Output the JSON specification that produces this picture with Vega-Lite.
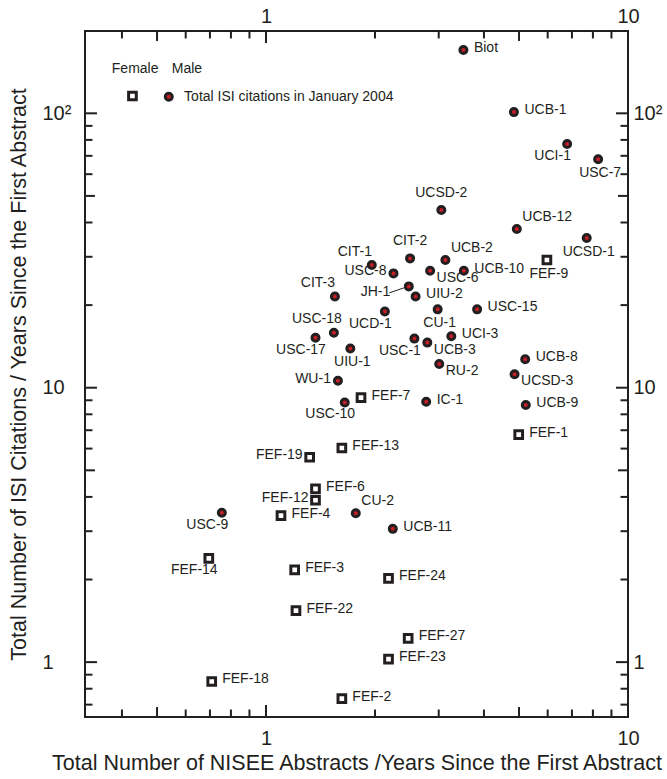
{
  "$schema": "https://vega.github.io/schema/vega-lite/v6.json",
  "width": 543,
  "height": 686,
  "autosize": {"type": "none"},
  "padding": {"left": 85, "top": 31, "right": 39, "bottom": 62},
  "background": "white",
  "datasets": {
    "scientists": [
      {"name": "Biot", "sex": "Male", "abstracts": 3.51, "citations": 170, "place": "r"},
      {"name": "UCB-1", "sex": "Male", "abstracts": 4.84, "citations": 101, "place": "r"},
      {"name": "UCI-1", "sex": "Male", "abstracts": 6.79, "citations": 77.3, "place": "bl"},
      {"name": "USC-7", "sex": "Male", "abstracts": 8.27, "citations": 68.0, "place": "b"},
      {"name": "UCSD-2", "sex": "Male", "abstracts": 3.05, "citations": 44.4, "place": "a"},
      {"name": "UCB-12", "sex": "Male", "abstracts": 4.93, "citations": 37.9, "place": "ar"},
      {"name": "UCSD-1", "sex": "Male", "abstracts": 7.69, "citations": 35.1, "place": "b"},
      {"name": "CIT-1", "sex": "Male", "abstracts": 1.96, "citations": 28.0, "place": "al"},
      {"name": "CIT-2", "sex": "Male", "abstracts": 2.50, "citations": 29.6, "place": "a"},
      {"name": "UCB-2", "sex": "Male", "abstracts": 3.13, "citations": 29.2, "place": "ar"},
      {"name": "USC-8", "sex": "Male", "abstracts": 2.25, "citations": 26.1, "place": "l"},
      {"name": "USC-6", "sex": "Male", "abstracts": 2.84, "citations": 26.7, "place": "br"},
      {"name": "UCB-10", "sex": "Male", "abstracts": 3.52, "citations": 26.7, "place": "r"},
      {"name": "JH-1", "sex": "Male", "abstracts": 2.48, "citations": 23.4, "place": "lead"},
      {"name": "UIU-2", "sex": "Male", "abstracts": 2.59, "citations": 21.5, "place": "r"},
      {"name": "CIT-3", "sex": "Male", "abstracts": 1.55, "citations": 21.5, "place": "al"},
      {"name": "UCD-1", "sex": "Male", "abstracts": 2.13, "citations": 18.95, "place": "bl"},
      {"name": "CU-1", "sex": "Male", "abstracts": 2.98, "citations": 19.3, "place": "b"},
      {"name": "USC-15", "sex": "Male", "abstracts": 3.83, "citations": 19.3, "place": "r"},
      {"name": "USC-18", "sex": "Male", "abstracts": 1.54, "citations": 15.85, "place": "al"},
      {"name": "USC-17", "sex": "Male", "abstracts": 1.37, "citations": 15.2, "place": "bl"},
      {"name": "UIU-1", "sex": "Male", "abstracts": 1.71, "citations": 13.9, "place": "b"},
      {"name": "USC-1", "sex": "Male", "abstracts": 2.57, "citations": 15.1, "place": "bl"},
      {"name": "UCB-3", "sex": "Male", "abstracts": 2.79, "citations": 14.6, "place": "br"},
      {"name": "UCI-3", "sex": "Male", "abstracts": 3.25, "citations": 15.4, "place": "r"},
      {"name": "RU-2", "sex": "Male", "abstracts": 3.01, "citations": 12.2, "place": "br"},
      {"name": "UCB-8", "sex": "Male", "abstracts": 5.20, "citations": 12.7, "place": "r"},
      {"name": "UCSD-3", "sex": "Male", "abstracts": 4.86, "citations": 11.2, "place": "br"},
      {"name": "UCB-9", "sex": "Male", "abstracts": 5.22, "citations": 8.65, "place": "r"},
      {"name": "IC-1", "sex": "Male", "abstracts": 2.77, "citations": 8.89, "place": "r"},
      {"name": "WU-1", "sex": "Male", "abstracts": 1.58, "citations": 10.6, "place": "l"},
      {"name": "USC-10", "sex": "Male", "abstracts": 1.65, "citations": 8.84, "place": "bl"},
      {"name": "CU-2", "sex": "Male", "abstracts": 1.77, "citations": 3.49, "place": "ar"},
      {"name": "UCB-11", "sex": "Male", "abstracts": 2.24, "citations": 3.06, "place": "r"},
      {"name": "USC-9", "sex": "Male", "abstracts": 0.755, "citations": 3.50, "place": "bl"},
      {"name": "FEF-9", "sex": "Female", "abstracts": 5.97, "citations": 29.2, "place": "b"},
      {"name": "FEF-1", "sex": "Female", "abstracts": 4.99, "citations": 6.75, "place": "r"},
      {"name": "FEF-7", "sex": "Female", "abstracts": 1.83, "citations": 9.20, "place": "r"},
      {"name": "FEF-13", "sex": "Female", "abstracts": 1.62, "citations": 6.03, "place": "r"},
      {"name": "FEF-19", "sex": "Female", "abstracts": 1.32, "citations": 5.58, "place": "l"},
      {"name": "FEF-6", "sex": "Female", "abstracts": 1.37, "citations": 4.28, "place": "r"},
      {"name": "FEF-12", "sex": "Female", "abstracts": 1.37, "citations": 3.89, "place": "l"},
      {"name": "FEF-4", "sex": "Female", "abstracts": 1.10, "citations": 3.42, "place": "r"},
      {"name": "FEF-14", "sex": "Female", "abstracts": 0.695, "citations": 2.39, "place": "bl"},
      {"name": "FEF-3", "sex": "Female", "abstracts": 1.20, "citations": 2.17, "place": "r"},
      {"name": "FEF-22", "sex": "Female", "abstracts": 1.21, "citations": 1.54, "place": "r"},
      {"name": "FEF-18", "sex": "Female", "abstracts": 0.708, "citations": 0.850, "place": "r"},
      {"name": "FEF-2", "sex": "Female", "abstracts": 1.62, "citations": 0.736, "place": "r"},
      {"name": "FEF-24", "sex": "Female", "abstracts": 2.18, "citations": 2.02, "place": "r"},
      {"name": "FEF-27", "sex": "Female", "abstracts": 2.47, "citations": 1.22, "place": "r"},
      {"name": "FEF-23", "sex": "Female", "abstracts": 2.18, "citations": 1.025, "place": "r"}
    ],
    "key": [
      {"item": "Female", "kind": "header", "x": 0.375, "y": 145.3},
      {"item": "Male", "kind": "header", "x": 0.549, "y": 145.3},
      {"item": "Total ISI citations in January 2004", "kind": "caption", "x": 0.594, "y": 114.9},
      {"item": "Female", "kind": "symbol", "x": 0.4276, "y": 115.6},
      {"item": "Male", "kind": "symbol", "x": 0.5387, "y": 114.9}
    ],
    "scaleMarks": [
      {"dim": "x", "level": "major", "v": 1}, {"dim": "x", "level": "major", "v": 10},
      {"dim": "x", "level": "half", "v": 0.5}, {"dim": "x", "level": "half", "v": 5},
      {"dim": "x", "level": "minor", "v": 0.4}, {"dim": "x", "level": "minor", "v": 0.6},
      {"dim": "x", "level": "minor", "v": 0.7}, {"dim": "x", "level": "minor", "v": 0.8},
      {"dim": "x", "level": "minor", "v": 0.9}, {"dim": "x", "level": "minor", "v": 2},
      {"dim": "x", "level": "minor", "v": 3}, {"dim": "x", "level": "minor", "v": 4},
      {"dim": "x", "level": "minor", "v": 6}, {"dim": "x", "level": "minor", "v": 7},
      {"dim": "x", "level": "minor", "v": 8}, {"dim": "x", "level": "minor", "v": 9},
      {"dim": "y", "level": "major", "v": 1}, {"dim": "y", "level": "major", "v": 10},
      {"dim": "y", "level": "major", "v": 100},
      {"dim": "y", "level": "half", "v": 5}, {"dim": "y", "level": "half", "v": 50},
      {"dim": "y", "level": "minor", "v": 0.7}, {"dim": "y", "level": "minor", "v": 0.8},
      {"dim": "y", "level": "minor", "v": 0.9}, {"dim": "y", "level": "minor", "v": 2},
      {"dim": "y", "level": "minor", "v": 3}, {"dim": "y", "level": "minor", "v": 4},
      {"dim": "y", "level": "minor", "v": 6}, {"dim": "y", "level": "minor", "v": 7},
      {"dim": "y", "level": "minor", "v": 8}, {"dim": "y", "level": "minor", "v": 9},
      {"dim": "y", "level": "minor", "v": 20}, {"dim": "y", "level": "minor", "v": 30},
      {"dim": "y", "level": "minor", "v": 40}, {"dim": "y", "level": "minor", "v": 60},
      {"dim": "y", "level": "minor", "v": 70}, {"dim": "y", "level": "minor", "v": 80},
      {"dim": "y", "level": "minor", "v": 90}
    ]
  },
  "layer": [
    {
      "data": {"name": "scientists"},
      "transform": [{"filter": "datum.name == 'JH-1'"}],
      "mark": {"type": "rule", "stroke": "#231f20", "strokeWidth": 1, "xOffset": -5, "yOffset": 1.5, "x2Offset": -19.5, "y2Offset": 6.5},
      "encoding": {
        "x": {"field": "abstracts", "type": "quantitative", "scale": {"type": "log", "domain": [0.3162, 10], "nice": false}, "axis": null},
        "y": {"field": "citations", "type": "quantitative", "scale": {"type": "log", "domain": [0.631, 199.5], "nice": false}, "axis": null},
        "x2": {"field": "abstracts"},
        "y2": {"field": "citations"}
      }
    },
    {
      "data": {"name": "scientists"},
      "transform": [{"filter": "datum.place == 'r'"}],
      "mark": {"type": "text", "align": "left", "baseline": "middle", "dx": 10.5, "dy": -2, "font": "Liberation Sans", "fontSize": 14, "fill": "#231f20"},
      "encoding": {
        "x": {"field": "abstracts", "type": "quantitative", "scale": {"type": "log", "domain": [0.3162, 10], "nice": false}, "axis": null},
        "y": {"field": "citations", "type": "quantitative", "scale": {"type": "log", "domain": [0.631, 199.5], "nice": false}, "axis": null},
        "text": {"field": "name"}
      }
    },
    {
      "data": {"name": "scientists"},
      "transform": [{"filter": "datum.place == 'b'"}],
      "mark": {"type": "text", "align": "center", "baseline": "middle", "dx": 2, "dy": 13.5, "font": "Liberation Sans", "fontSize": 14, "fill": "#231f20"},
      "encoding": {
        "x": {"field": "abstracts", "type": "quantitative", "scale": {"type": "log", "domain": [0.3162, 10], "nice": false}, "axis": null},
        "y": {"field": "citations", "type": "quantitative", "scale": {"type": "log", "domain": [0.631, 199.5], "nice": false}, "axis": null},
        "text": {"field": "name"}
      }
    },
    {
      "data": {"name": "scientists"},
      "transform": [{"filter": "datum.place == 'l'"}],
      "mark": {"type": "text", "align": "right", "baseline": "middle", "dx": -7, "dy": -2, "font": "Liberation Sans", "fontSize": 14, "fill": "#231f20"},
      "encoding": {
        "x": {"field": "abstracts", "type": "quantitative", "scale": {"type": "log", "domain": [0.3162, 10], "nice": false}, "axis": null},
        "y": {"field": "citations", "type": "quantitative", "scale": {"type": "log", "domain": [0.631, 199.5], "nice": false}, "axis": null},
        "text": {"field": "name"}
      }
    },
    {
      "data": {"name": "scientists"},
      "transform": [{"filter": "datum.place == 'bl'"}],
      "mark": {"type": "text", "align": "center", "baseline": "middle", "dx": -14.5, "dy": 12, "font": "Liberation Sans", "fontSize": 14, "fill": "#231f20"},
      "encoding": {
        "x": {"field": "abstracts", "type": "quantitative", "scale": {"type": "log", "domain": [0.3162, 10], "nice": false}, "axis": null},
        "y": {"field": "citations", "type": "quantitative", "scale": {"type": "log", "domain": [0.631, 199.5], "nice": false}, "axis": null},
        "text": {"field": "name"}
      }
    },
    {
      "data": {"name": "scientists"},
      "transform": [{"filter": "datum.place == 'br'"}],
      "mark": {"type": "text", "align": "left", "baseline": "middle", "dx": 6.5, "dy": 7, "font": "Liberation Sans", "fontSize": 14, "fill": "#231f20"},
      "encoding": {
        "x": {"field": "abstracts", "type": "quantitative", "scale": {"type": "log", "domain": [0.3162, 10], "nice": false}, "axis": null},
        "y": {"field": "citations", "type": "quantitative", "scale": {"type": "log", "domain": [0.631, 199.5], "nice": false}, "axis": null},
        "text": {"field": "name"}
      }
    },
    {
      "data": {"name": "scientists"},
      "transform": [{"filter": "datum.place == 'ar'"}],
      "mark": {"type": "text", "align": "left", "baseline": "middle", "dx": 5.5, "dy": -12, "font": "Liberation Sans", "fontSize": 14, "fill": "#231f20"},
      "encoding": {
        "x": {"field": "abstracts", "type": "quantitative", "scale": {"type": "log", "domain": [0.3162, 10], "nice": false}, "axis": null},
        "y": {"field": "citations", "type": "quantitative", "scale": {"type": "log", "domain": [0.631, 199.5], "nice": false}, "axis": null},
        "text": {"field": "name"}
      }
    },
    {
      "data": {"name": "scientists"},
      "transform": [{"filter": "datum.place == 'lead'"}],
      "mark": {"type": "text", "align": "right", "baseline": "middle", "dx": -18.5, "dy": 6, "font": "Liberation Sans", "fontSize": 14, "fill": "#231f20"},
      "encoding": {
        "x": {"field": "abstracts", "type": "quantitative", "scale": {"type": "log", "domain": [0.3162, 10], "nice": false}, "axis": null},
        "y": {"field": "citations", "type": "quantitative", "scale": {"type": "log", "domain": [0.631, 199.5], "nice": false}, "axis": null},
        "text": {"field": "name"}
      }
    },
    {
      "data": {"name": "scientists"},
      "transform": [{"filter": "datum.place == 'a'"}],
      "mark": {"type": "text", "align": "center", "baseline": "middle", "dx": 0, "dy": -17, "font": "Liberation Sans", "fontSize": 14, "fill": "#231f20"},
      "encoding": {
        "x": {"field": "abstracts", "type": "quantitative", "scale": {"type": "log", "domain": [0.3162, 10], "nice": false}, "axis": null},
        "y": {"field": "citations", "type": "quantitative", "scale": {"type": "log", "domain": [0.631, 199.5], "nice": false}, "axis": null},
        "text": {"field": "name"}
      }
    },
    {
      "data": {"name": "scientists"},
      "transform": [{"filter": "datum.place == 'al'"}],
      "mark": {"type": "text", "align": "center", "baseline": "middle", "dx": -17, "dy": -13.5, "font": "Liberation Sans", "fontSize": 14, "fill": "#231f20"},
      "encoding": {
        "x": {"field": "abstracts", "type": "quantitative", "scale": {"type": "log", "domain": [0.3162, 10], "nice": false}, "axis": null},
        "y": {"field": "citations", "type": "quantitative", "scale": {"type": "log", "domain": [0.631, 199.5], "nice": false}, "axis": null},
        "text": {"field": "name"}
      }
    },
    {
      "data": {"name": "scientists"},
      "transform": [{"filter": "datum.sex == 'Female'"}],
      "mark": {"type": "point", "shape": "square", "filled": true, "fill": "white", "stroke": "#231f20", "strokeWidth": 3, "size": 59, "opacity": 1},
      "encoding": {
        "x": {"field": "abstracts", "type": "quantitative", "scale": {"type": "log", "domain": [0.3162, 10], "nice": false},
          "axis": {"orient": "bottom", "values": [1, 10], "labelPadding": 11, "labelExpr": "datum.value > 5 ? '10' : '1'",
            "title": "Total Number of NISEE Abstracts /Years Since the First Abstract", "titlePadding": 4}},
        "y": {"field": "citations", "type": "quantitative", "scale": {"type": "log", "domain": [0.631, 199.5], "nice": false},
          "axis": {"orient": "left", "values": [1, 10, 100], "labelPadding": 43, "labelAlign": "left",
            "labelExpr": "datum.value > 50 ? '10²' : datum.value > 5 ? '10' : '1'",
            "title": "Total Number of ISI Citations / Years Since the First Abstract", "titlePadding": 12}}
      }
    },
    {
      "data": {"name": "scientists"},
      "transform": [{"filter": "datum.sex == 'Male'"}],
      "mark": {"type": "point", "shape": "circle", "filled": true, "fill": "#c81e28", "stroke": "#231f20", "strokeWidth": 3, "size": 49, "opacity": 1},
      "encoding": {
        "x": {"field": "abstracts", "type": "quantitative", "scale": {"type": "log", "domain": [0.3162, 10], "nice": false},
          "axis": {"orient": "top", "values": [1, 10], "labelPadding": 5, "labelExpr": "datum.value > 5 ? '10' : '1'", "title": null}},
        "y": {"field": "citations", "type": "quantitative", "scale": {"type": "log", "domain": [0.631, 199.5], "nice": false},
          "axis": {"orient": "right", "values": [1, 10, 100], "labelPadding": 5, "labelAlign": "left",
            "labelExpr": "datum.value > 50 ? '10²' : datum.value > 5 ? '10' : '1'", "title": null}}
      }
    },
    {
      "data": {"name": "key"},
      "transform": [{"filter": "datum.kind != 'symbol'"}],
      "mark": {"type": "text", "align": "left", "baseline": "middle", "font": "Liberation Sans", "fontSize": 14, "fill": "#231f20"},
      "encoding": {
        "x": {"field": "x", "type": "quantitative", "scale": {"type": "log", "domain": [0.3162, 10], "nice": false}, "axis": null},
        "y": {"field": "y", "type": "quantitative", "scale": {"type": "log", "domain": [0.631, 199.5], "nice": false}, "axis": null},
        "text": {"field": "item"}
      }
    },
    {
      "data": {"name": "key"},
      "transform": [{"filter": "datum.kind == 'symbol' && datum.item == 'Female'"}],
      "mark": {"type": "point", "shape": "square", "filled": true, "fill": "white", "stroke": "#231f20", "strokeWidth": 3, "size": 59, "opacity": 1},
      "encoding": {
        "x": {"field": "x", "type": "quantitative", "scale": {"type": "log", "domain": [0.3162, 10], "nice": false}, "axis": null},
        "y": {"field": "y", "type": "quantitative", "scale": {"type": "log", "domain": [0.631, 199.5], "nice": false}, "axis": null}
      }
    },
    {
      "data": {"name": "key"},
      "transform": [{"filter": "datum.kind == 'symbol' && datum.item == 'Male'"}],
      "mark": {"type": "point", "shape": "circle", "filled": true, "fill": "#c81e28", "stroke": "#231f20", "strokeWidth": 3, "size": 49, "opacity": 1},
      "encoding": {
        "x": {"field": "x", "type": "quantitative", "scale": {"type": "log", "domain": [0.3162, 10], "nice": false}, "axis": null},
        "y": {"field": "y", "type": "quantitative", "scale": {"type": "log", "domain": [0.631, 199.5], "nice": false}, "axis": null}
      }
    },
    {
      "data": {"name": "scaleMarks"},
      "transform": [{"filter": "datum.dim == 'x'"}],
      "encoding": {
        "x": {"field": "v", "type": "quantitative", "scale": {"type": "log", "domain": [0.3162, 10], "nice": false}, "axis": null}
      },
      "layer": [
        {"transform": [{"filter": "datum.level == 'major'"}], "mark": {"type": "rule", "stroke": "#231f20", "strokeWidth": 2},
         "encoding": {"y": {"datum": 0.631, "type": "quantitative", "scale": {"type": "log", "domain": [0.631, 199.5], "nice": false}, "axis": null}, "y2": {"datum": 0.6977}}},
        {"transform": [{"filter": "datum.level == 'half'"}], "mark": {"type": "rule", "stroke": "#231f20", "strokeWidth": 2},
         "encoding": {"y": {"datum": 0.631, "type": "quantitative", "scale": {"type": "log", "domain": [0.631, 199.5], "nice": false}, "axis": null}, "y2": {"datum": 0.6861}}},
        {"transform": [{"filter": "datum.level == 'minor'"}], "mark": {"type": "rule", "stroke": "#231f20", "strokeWidth": 2},
         "encoding": {"y": {"datum": 0.631, "type": "quantitative", "scale": {"type": "log", "domain": [0.631, 199.5], "nice": false}, "axis": null}, "y2": {"datum": 0.6719}}},
        {"transform": [{"filter": "datum.level == 'major'"}], "mark": {"type": "rule", "stroke": "#231f20", "strokeWidth": 2},
         "encoding": {"y": {"datum": 199.5, "type": "quantitative", "scale": {"type": "log", "domain": [0.631, 199.5], "nice": false}, "axis": null}, "y2": {"datum": 180.4}}},
        {"transform": [{"filter": "datum.level == 'half'"}], "mark": {"type": "rule", "stroke": "#231f20", "strokeWidth": 2},
         "encoding": {"y": {"datum": 199.5, "type": "quantitative", "scale": {"type": "log", "domain": [0.631, 199.5], "nice": false}, "axis": null}, "y2": {"datum": 183.5}}},
        {"transform": [{"filter": "datum.level == 'minor'"}], "mark": {"type": "rule", "stroke": "#231f20", "strokeWidth": 2},
         "encoding": {"y": {"datum": 199.5, "type": "quantitative", "scale": {"type": "log", "domain": [0.631, 199.5], "nice": false}, "axis": null}, "y2": {"datum": 187.4}}}
      ]
    },
    {
      "data": {"name": "scaleMarks"},
      "transform": [{"filter": "datum.dim == 'y'"}],
      "encoding": {
        "y": {"field": "v", "type": "quantitative", "scale": {"type": "log", "domain": [0.631, 199.5], "nice": false}, "axis": null}
      },
      "layer": [
        {"transform": [{"filter": "datum.level == 'major'"}], "mark": {"type": "rule", "stroke": "#231f20", "strokeWidth": 2},
         "encoding": {"x": {"datum": 0.3162, "type": "quantitative", "scale": {"type": "log", "domain": [0.3162, 10], "nice": false}, "axis": null}, "x2": {"datum": 0.3413}}},
        {"transform": [{"filter": "datum.level == 'half'"}], "mark": {"type": "rule", "stroke": "#231f20", "strokeWidth": 2},
         "encoding": {"x": {"datum": 0.3162, "type": "quantitative", "scale": {"type": "log", "domain": [0.3162, 10], "nice": false}, "axis": null}, "x2": {"datum": 0.3369}}},
        {"transform": [{"filter": "datum.level == 'minor'"}], "mark": {"type": "rule", "stroke": "#231f20", "strokeWidth": 2},
         "encoding": {"x": {"datum": 0.3162, "type": "quantitative", "scale": {"type": "log", "domain": [0.3162, 10], "nice": false}, "axis": null}, "x2": {"datum": 0.3316}}},
        {"transform": [{"filter": "datum.level == 'major'"}], "mark": {"type": "rule", "stroke": "#231f20", "strokeWidth": 2},
         "encoding": {"x": {"datum": 10, "type": "quantitative", "scale": {"type": "log", "domain": [0.3162, 10], "nice": false}, "axis": null}, "x2": {"datum": 9.265}}},
        {"transform": [{"filter": "datum.level == 'half'"}], "mark": {"type": "rule", "stroke": "#231f20", "strokeWidth": 2},
         "encoding": {"x": {"datum": 10, "type": "quantitative", "scale": {"type": "log", "domain": [0.3162, 10], "nice": false}, "axis": null}, "x2": {"datum": 9.384}}},
        {"transform": [{"filter": "datum.level == 'minor'"}], "mark": {"type": "rule", "stroke": "#231f20", "strokeWidth": 2},
         "encoding": {"x": {"datum": 10, "type": "quantitative", "scale": {"type": "log", "domain": [0.3162, 10], "nice": false}, "axis": null}, "x2": {"datum": 9.535}}}
      ]
    }
  ],
  "resolve": {"axis": {"x": "independent", "y": "independent"}},
  "config": {
    "view": {"stroke": "#231f20", "strokeWidth": 2},
    "axis": {
      "grid": false,
      "domain": false,
      "ticks": false,
      "labelFont": "Liberation Sans",
      "labelFontSize": 20,
      "labelColor": "#231f20",
      "labelFlush": false,
      "labelOverlap": false,
      "titleFont": "Liberation Sans",
      "titleFontSize": 21.5,
      "titleFontWeight": "normal",
      "titleColor": "#231f20"
    }
  }
}
